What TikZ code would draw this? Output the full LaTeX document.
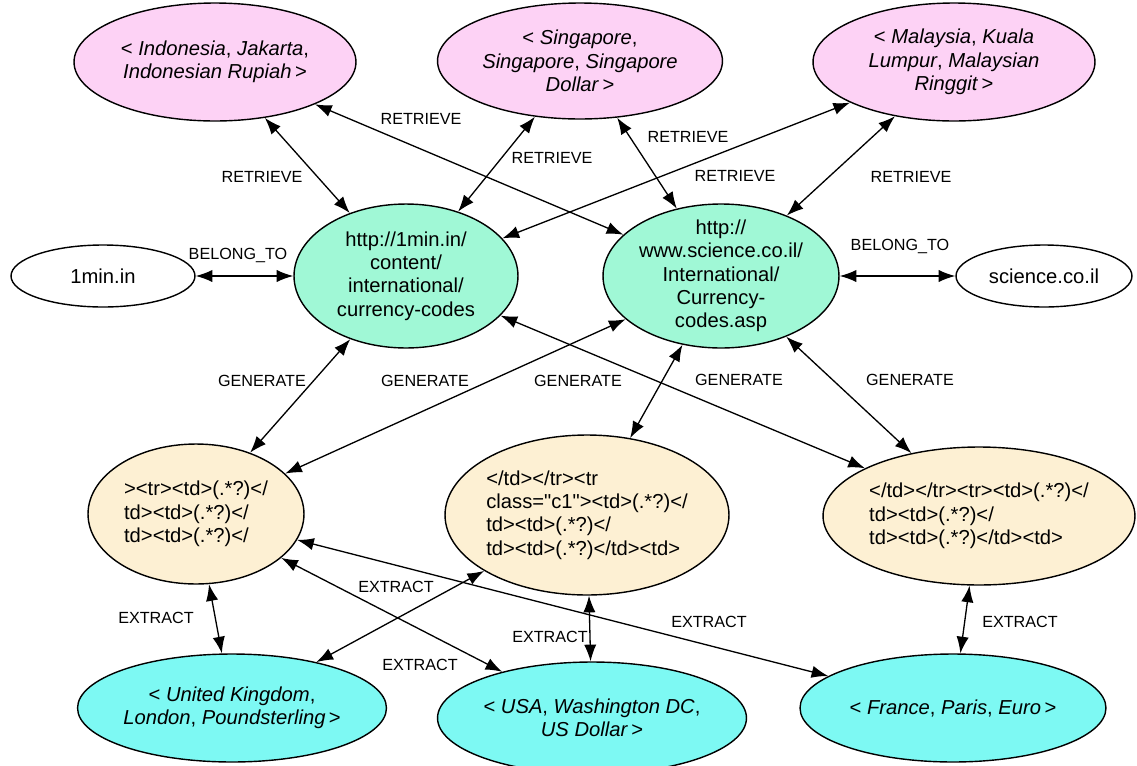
\documentclass[tikz,border=0pt]{standalone}
\usepackage{fontspec}
\setmainfont{Liberation Sans}
\newfontfamily\codefont{Liberation Sans}[Ligatures=TeXOff]
\usepackage{xcolor}
\usetikzlibrary{shapes.geometric}
\usetikzlibrary{arrows.meta}

\definecolor{pinkfill}{HTML}{FDD2F5}
\definecolor{mintfill}{HTML}{A0F8D6}
\definecolor{creamfill}{HTML}{FDF0D3}
\definecolor{cyanfill}{HTML}{7DF9F3}

\begin{document}
\begin{tikzpicture}[x=0.02cm, y=-0.02cm,
  blob/.style={ellipse, draw, line width=0.8pt, inner sep=0pt},
  tuple/.style={blob, fill=pinkfill},
  page/.style={blob, fill=mintfill},
  site/.style={blob, fill=white},
  wrapper/.style={blob, fill=creamfill},
  result/.style={blob, fill=cyanfill},
  txt/.style={align=center, inner sep=0pt, font=\fontsize{11.5}{13.3}\selectfont},
  code/.style={align=left, inner sep=0pt, font=\codefont\fontsize{11.5}{13.3}\selectfont},
  rel/.style={inner sep=0pt, font=\fontsize{9.2}{11}\selectfont},
  link/.style={line width=0.75pt, {Latex[length=9.5pt,width=7pt]}-{Latex[length=9.5pt,width=7pt]}}]
\useasboundingbox (0,0) rectangle (1137,765);

% seed tuples
\node[tuple, minimum width=5.64cm, minimum height=2.36cm] (idn) at (215,62) {};
\node[txt] (idn-t) at (idn) {< \textit{Indonesia}, \textit{Jakarta},\\ \textit{Indonesian Rupiah}\,>};
\node[tuple, minimum width=5.7cm, minimum height=2.32cm] (sgp) at (580,61) {};
\node[txt] (sgp-t) at (sgp) {< \textit{Singapore},\\ \textit{Singapore}, \textit{Singapore}\\ \textit{Dollar}\,>};
\node[tuple, minimum width=5.64cm, minimum height=2.36cm] (mys) at (954,62) {};
\node[txt] (mys-t) at (mys) {< \textit{Malaysia}, \textit{Kuala}\\ \textit{Lumpur}, \textit{Malaysian}\\ \textit{Ringgit}\,>};

% pages and sites
\node[site, minimum width=3.68cm, minimum height=1.24cm] (onemin) at (103,276) {};
\node[txt] (onemin-t) at (onemin) {1min.in};
\node[page, minimum width=4.48cm, minimum height=2.88cm] (url1) at (406,276) {};
\node[txt] (url1-t) at (url1) {http://1min.in/\\ content/\\ international/\\ currency-codes};
\node[page, minimum width=4.72cm, minimum height=2.88cm] (url2) at (721,276) {};
\node[txt] (url2-t) at (url2) {http://\\ www.science.co.il/\\ International/\\ Currency-\\ codes.asp};
\node[site, minimum width=3.52cm, minimum height=1.24cm] (sci) at (1044,276) {};
\node[txt] (sci-t) at (sci) {science.co.il};

% wrappers
\node[wrapper, minimum width=4.32cm, minimum height=2.8cm] (w1) at (196,514) {};
\node[code] (w1-t) at (w1) {><tr><td>(.*?)</\\ td><td>(.*?)</\\ td><td>(.*?)</};
\node[wrapper, minimum width=5.68cm, minimum height=3.2cm] (w2) at (587,515) {};
\node[code] (w2-t) at (w2) {</td></tr><tr\\ class="c1"><td>(.*?)</\\ td><td>(.*?)</\\ td><td>(.*?)</td><td>};
\node[wrapper, minimum width=6.24cm, minimum height=2.76cm] (w3) at (979,516) {};
\node[code] (w3-t) at (w3) {</td></tr><tr><td>(.*?)</\\ td><td>(.*?)</\\ td><td>(.*?)</td><td>};

% extracted tuples
\node[result, minimum width=6.18cm, minimum height=2.16cm] (gbr) at (232,708) {};
\node[txt] (gbr-t) at (gbr) {< \textit{United Kingdom},\\ \textit{London}, \textit{Poundsterling}\,>};
\node[result, minimum width=6.18cm, minimum height=2.24cm] (usa) at (592,718) {};
\node[txt] (usa-t) at (usa) {< \textit{USA}, \textit{Washington DC},\\ \textit{US Dollar}\,>};
\node[result, minimum width=6.12cm, minimum height=2.16cm] (fra) at (953,708) {};
\node[txt] (fra-t) at (fra) {< \textit{France}, \textit{Paris}, \textit{Euro}\,>};

% RETRIEVE
\draw[link] (idn) -- (url1);
\draw[link] (idn) -- (url2);
\draw[link] (sgp) -- (url1);
\draw[link] (sgp) -- (url2);
\draw[link] (mys) -- (url1);
\draw[link] (mys) -- (url2);
\node[rel] (r1) at (262,177) {RETRIEVE};
\node[rel] (r2) at (421,119) {RETRIEVE};
\node[rel] (r3) at (552,158) {RETRIEVE};
\node[rel] (r4) at (688,137) {RETRIEVE};
\node[rel] (r5) at (735,176) {RETRIEVE};
\node[rel] (r6) at (911,177) {RETRIEVE};

% BELONG_TO
\draw[link] (onemin) -- (url1);
\draw[link] (url2) -- (sci);
\node[rel] (b1) at (238,255) {BELONG\_TO};
\node[rel] (b2) at (900,246) {BELONG\_TO};

% GENERATE
\draw[link] (url1) -- (w1);
\draw[link] (url2) -- (w1);
\draw[link] (url2) -- (w2);
\draw[link] (url1) -- (w3);
\draw[link] (url2) -- (w3);
\node[rel] (g1) at (262,381) {GENERATE};
\node[rel] (g2) at (425,381) {GENERATE};
\node[rel] (g3) at (578,381) {GENERATE};
\node[rel] (g4) at (739,380) {GENERATE};
\node[rel] (g5) at (910,380) {GENERATE};

% EXTRACT
\draw[link] (w1) -- (gbr);
\draw[link] (w1) -- (usa);
\draw[link] (w2) -- (gbr);
\draw[link] (w1) -- (fra);
\draw[link] (w2) -- (usa);
\draw[link] (w3) -- (fra);
\node[rel] (e1) at (156,618) {EXTRACT};
\node[rel] (e2) at (396,587) {EXTRACT};
\node[rel] (e3) at (420,665) {EXTRACT};
\node[rel] (e4) at (550,637) {EXTRACT};
\node[rel] (e5) at (709,622) {EXTRACT};
\node[rel] (e6) at (1020,622) {EXTRACT};

\end{tikzpicture}
\end{document}
